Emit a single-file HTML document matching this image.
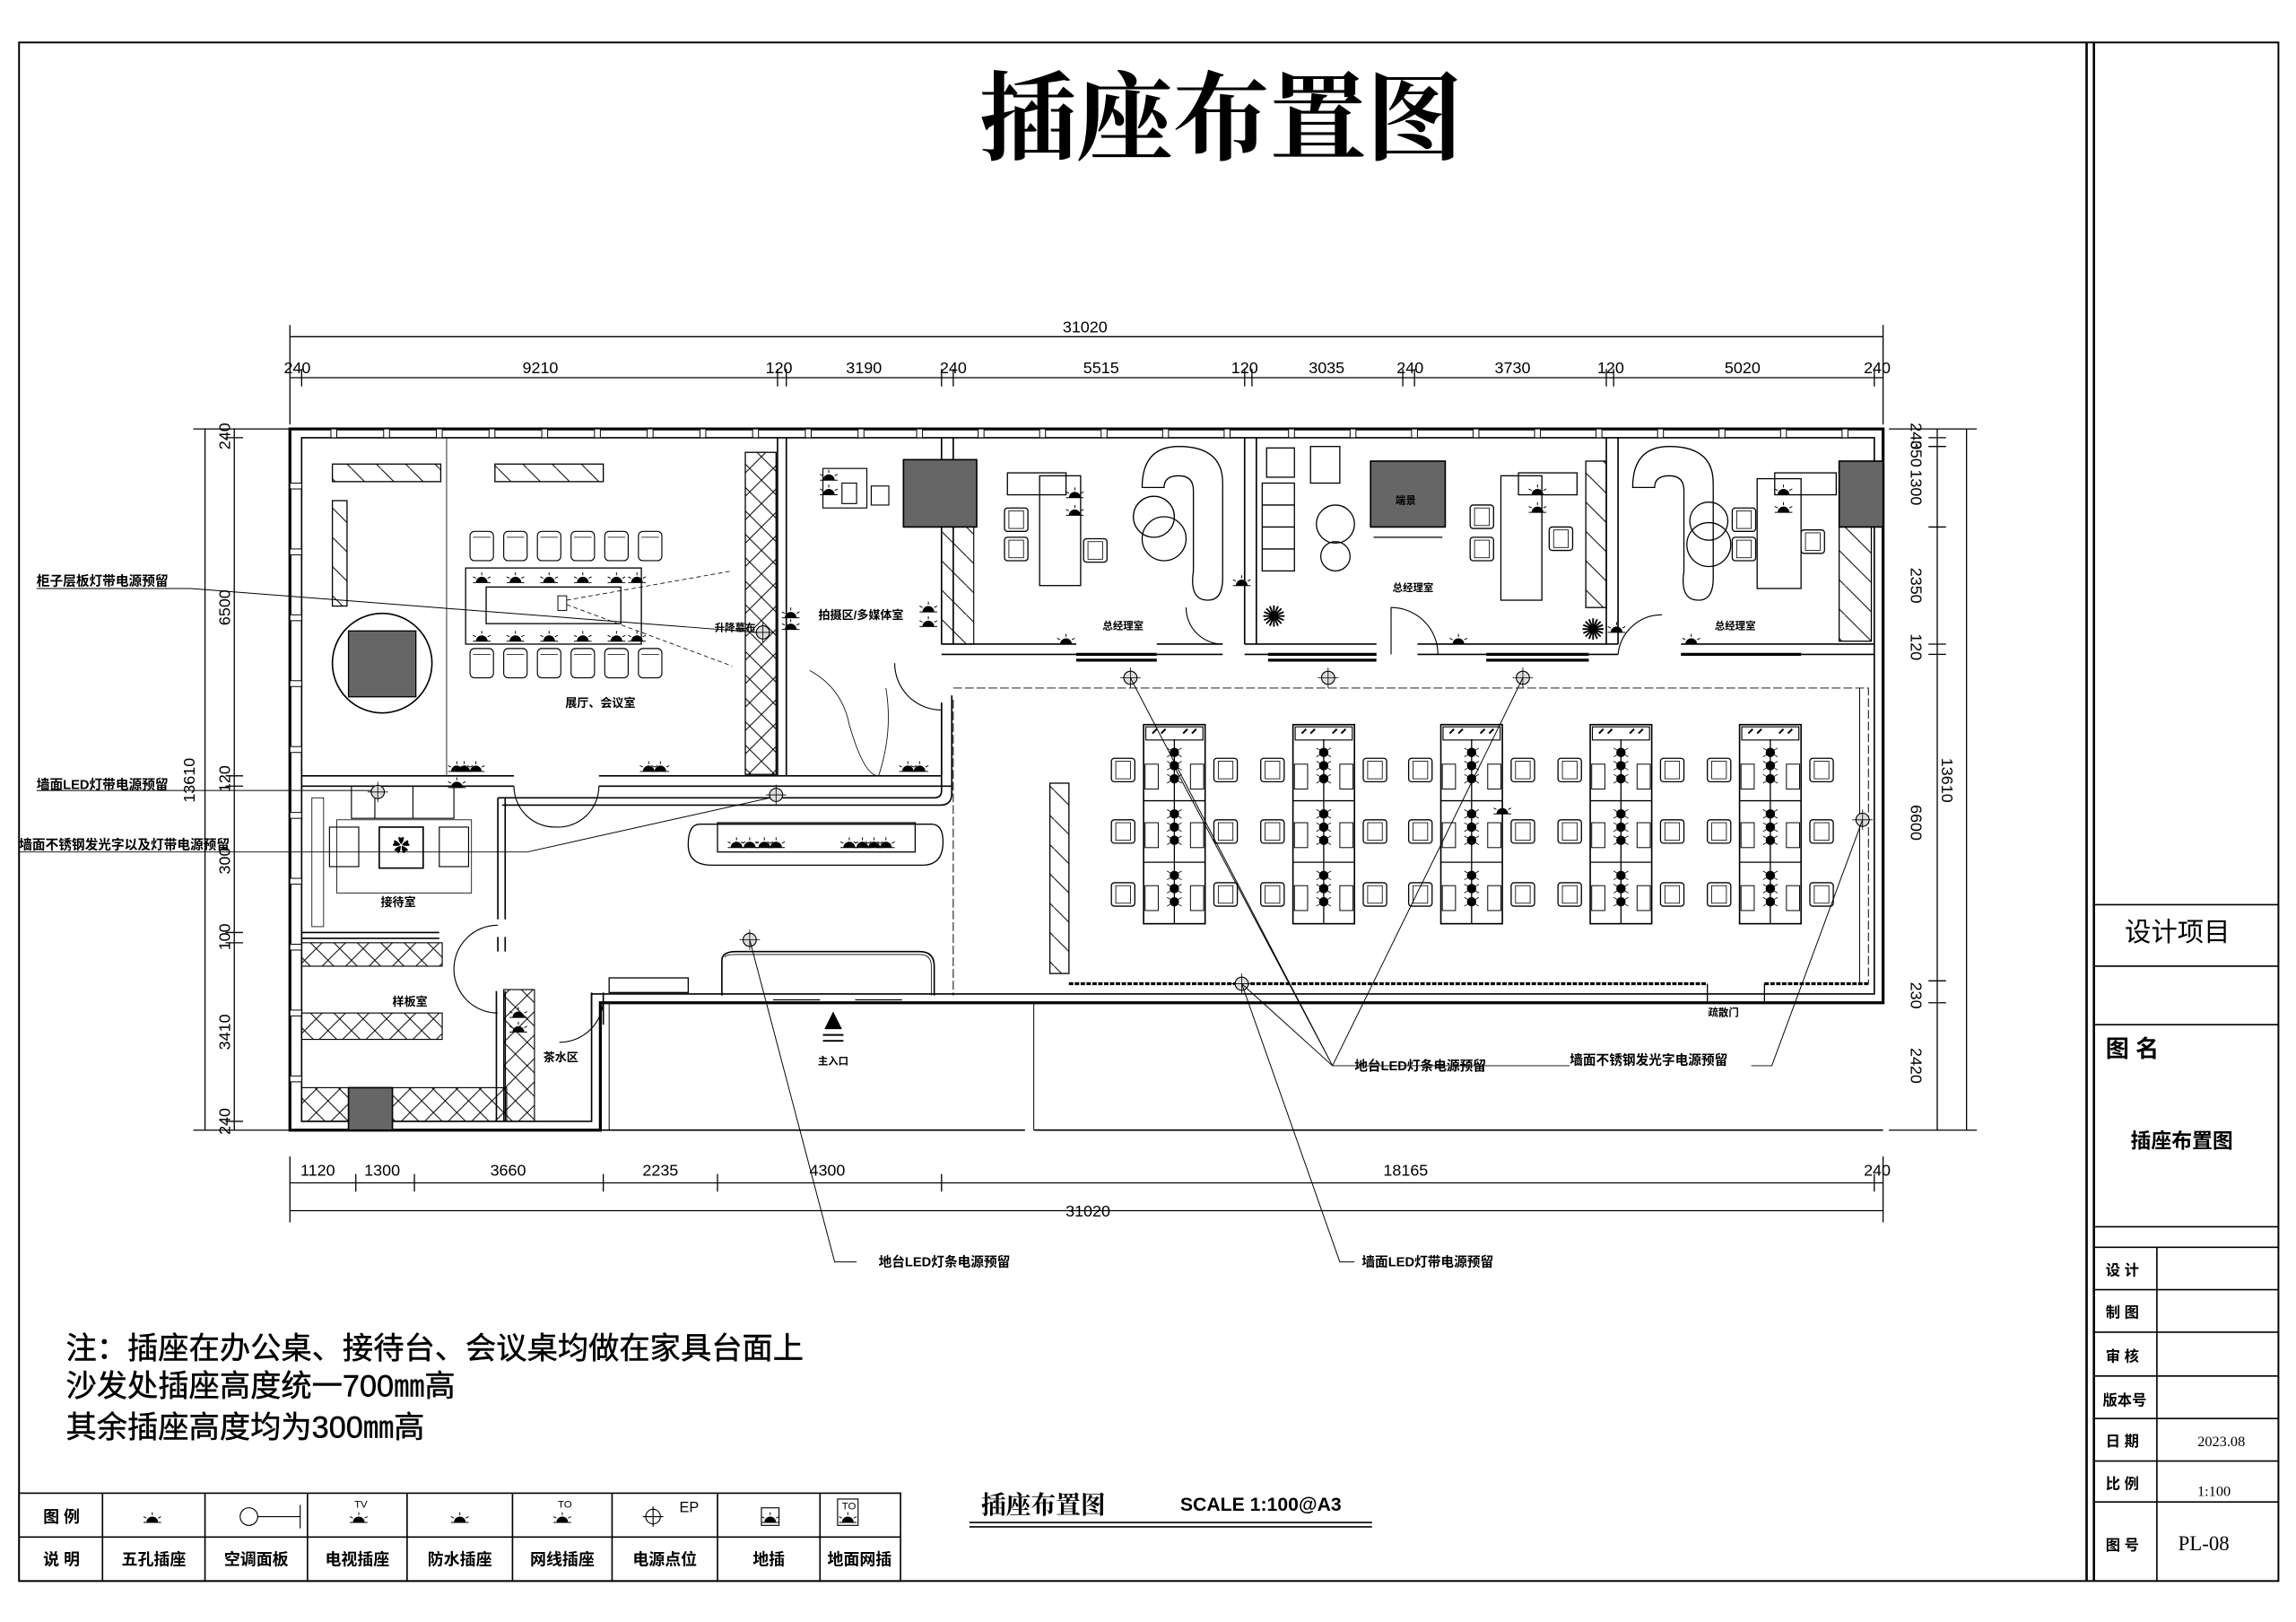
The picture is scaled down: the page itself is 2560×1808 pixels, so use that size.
<!DOCTYPE html>
<html><head><meta charset="utf-8"><style>
html,body{margin:0;padding:0;background:#fff;}
svg{display:block}
text{font-family:"Liberation Sans","Noto Sans CJK SC",sans-serif;fill:#000}
.sf{font-family:"Liberation Serif","Noto Serif CJK SC",serif}
.b{font-weight:bold}
</style></head><body>
<svg width="2560" height="1808" viewBox="0 0 1568 1108" preserveAspectRatio="none" xmlns="http://www.w3.org/2000/svg">
<defs>
<g id="sk"><path d="M-4,0 A4,4 0 0 1 4,0 Z" fill="#000"/><path d="M-6,-4 L-4,-3 M6,-4 L4,-3 M0,-7 L0,-5 M-6,0 L6,0" stroke="#000" stroke-width="0.6"/></g>
<g id="dot"><circle r="3.2" fill="#000"/><path d="M-5,-3 L5,3 M-5,3 L5,-3" stroke="#000" stroke-width="0.5"/></g>
<g id="ch"><rect x="0" y="0" width="16" height="16" rx="2" fill="#fff" stroke="#000" stroke-width="0.8"/><rect x="3" y="2" width="10" height="12" fill="none" stroke="#000" stroke-width="0.5"/></g>
<g id="mc"><rect x="0" y="0" width="16" height="20" rx="3" fill="#fff" stroke="#000" stroke-width="0.7"/><path d="M2,4 H14" stroke="#000" stroke-width="0.5"/></g>
<g id="ep"><circle r="4.5" fill="#ddd" stroke="#000" stroke-width="0.7"/><path d="M-7,0 H7 M0,-7 V7" stroke="#000" stroke-width="0.5"/></g>
<g id="cl">
<rect x="0" y="0" width="42" height="136" fill="#fff" stroke="#000" stroke-width="1"/>
<rect x="1.5" y="1.5" width="39" height="9" fill="none" stroke="#000" stroke-width="0.7"/>
<path d="M0,52 H42 M0,94 H42 M21,10 V136" stroke="#000" stroke-width="0.8"/>
<rect x="1" y="27" width="9" height="17" fill="none" stroke="#000" stroke-width="0.6"/><rect x="32" y="27" width="9" height="17" fill="none" stroke="#000" stroke-width="0.6"/>
<rect x="1" y="67" width="9" height="17" fill="none" stroke="#000" stroke-width="0.6"/><rect x="32" y="67" width="9" height="17" fill="none" stroke="#000" stroke-width="0.6"/>
<rect x="1" y="110" width="9" height="17" fill="none" stroke="#000" stroke-width="0.6"/><rect x="32" y="110" width="9" height="17" fill="none" stroke="#000" stroke-width="0.6"/>
<use href="#dot" x="21" y="19"/><use href="#dot" x="21" y="28"/><use href="#dot" x="21" y="37"/>
<use href="#dot" x="21" y="61"/><use href="#dot" x="21" y="70"/><use href="#dot" x="21" y="79"/>
<use href="#dot" x="21" y="103"/><use href="#dot" x="21" y="112"/><use href="#dot" x="21" y="121"/>
<path d="M6,6 l3,-3 M12,6 l3,-3 M27,6 l3,-3 M33,6 l3,-3" stroke="#000" stroke-width="1.2"/>
<use href="#ch" x="-22" y="23"/><use href="#ch" x="48" y="23"/>
<use href="#ch" x="-22" y="65"/><use href="#ch" x="48" y="65"/>
<use href="#ch" x="-22" y="108"/><use href="#ch" x="48" y="108"/>
</g>
<pattern id="hx" width="16" height="16" patternUnits="userSpaceOnUse"><path d="M0,0 L16,16 M16,0 L0,16" stroke="#000" stroke-width="0.6"/></pattern>
<pattern id="hd" width="20" height="20" patternUnits="userSpaceOnUse"><path d="M0,0 L20,20" stroke="#000" stroke-width="0.6"/></pattern>
</defs>

<rect x="13" y="29" width="1543" height="1051" fill="none" stroke="#000" stroke-width="1.2"/>
<path d="M1425,29 V1080 M1430,29 V1080" stroke="#000" stroke-width="1.6"/>
<text x="834" y="104" class="sf b" font-size="66" text-anchor="middle">插座布置图</text>

<g stroke="#000" stroke-width="1">
<path d="M1430,618 H1556 M1430,660 H1556 M1430,700 H1556 M1430,838 H1556 M1430,852 H1556 M1430,881 H1556 M1430,910 H1556 M1430,940 H1556 M1430,969 H1556 M1430,998 H1556 M1430,1026 H1556 M1473,852 V1080"/>
</g>
<text x="1487" y="643" font-size="18" text-anchor="middle">设计项目</text>
<text x="1438" y="722" font-size="16" class="b">图 名</text>
<text x="1490" y="784" font-size="14" class="b" text-anchor="middle">插座布置图</text>
<g font-size="10" class="b">
<text x="1438" y="871">设 计</text><text x="1438" y="900">制 图</text><text x="1438" y="930">审 核</text>
<text x="1436" y="960">版本号</text><text x="1438" y="988">日 期</text><text x="1438" y="1017">比 例</text><text x="1438" y="1059">图 号</text>
</g>
<text x="1517" y="988" font-size="10" class="sf" text-anchor="middle">2023.08</text>
<text x="1512" y="1022" font-size="10" class="sf" text-anchor="middle">1:100</text>
<text x="1505" y="1059" font-size="14" class="sf" text-anchor="middle">PL-08</text>

<g stroke="#000" stroke-width="0.8">
<path d="M198,230 H1286 M198,258 H1286 M198,222 V290 M1286,222 V290"/>
<path d="M206,252 V264 M531,252 V264 M537,252 V264 M643,252 V264 M651,252 V264 M850,252 V264 M855,252 V264 M958,252 V264 M966,252 V264 M1097,252 V264 M1102,252 V264 M1280,252 V264"/>
<path d="M198,808 H1286 M198,827 H1286 M198,790 V835 M1286,790 V835 M243,802 V814 M283,802 V814 M412,802 V814 M490,802 V814 M643,802 V814 M1280,802 V814"/>
<path d="M160,293 V772 M140,293 V772 M132,293 H198 M132,772 H198 M154,299 H166 M154,530 H166 M154,537 H166 M154,637 H166 M154,644 H166 M154,766 H166"/>
<path d="M1323,293 V772 M1343,293 V772 M1290,293 H1350 M1290,772 H1350 M1317,299 H1329 M1317,305 H1329 M1317,360 H1329 M1317,440 H1329 M1317,447 H1329 M1317,670 H1329 M1317,685 H1329"/>
</g>
<g font-size="11" text-anchor="middle">
<text x="741" y="227">31020</text>
<text x="203" y="255">240</text><text x="369" y="255">9210</text><text x="532" y="255">120</text><text x="590" y="255">3190</text><text x="651" y="255">240</text><text x="752" y="255">5515</text><text x="850" y="255">120</text><text x="906" y="255">3035</text><text x="963" y="255">240</text><text x="1033" y="255">3730</text><text x="1100" y="255">120</text><text x="1190" y="255">5020</text><text x="1282" y="255">240</text>
<text x="217" y="803">1120</text><text x="261" y="803">1300</text><text x="347" y="803">3660</text><text x="451" y="803">2235</text><text x="565" y="803">4300</text><text x="960" y="803">18165</text><text x="1282" y="803">240</text>
<text x="743" y="831">31020</text>
</g>
<g font-size="11" text-anchor="middle">
<text transform="translate(157,298) rotate(-90)">240</text><text transform="translate(157,415) rotate(-90)">6500</text><text transform="translate(157,532) rotate(-90)">120</text><text transform="translate(157,588) rotate(-90)">300</text><text transform="translate(157,640) rotate(-90)">100</text><text transform="translate(157,705) rotate(-90)">3410</text><text transform="translate(157,766) rotate(-90)">240</text>
<text transform="translate(133,533) rotate(-90)">13610</text>
<text transform="translate(1305,298) rotate(90)">240</text><text transform="translate(1305,310) rotate(90)">350</text><text transform="translate(1305,333) rotate(90)">1300</text><text transform="translate(1305,400) rotate(90)">2350</text><text transform="translate(1305,442) rotate(90)">120</text><text transform="translate(1305,562) rotate(90)">6600</text><text transform="translate(1305,680) rotate(90)">230</text><text transform="translate(1305,728) rotate(90)">2420</text>
<text transform="translate(1326,533) rotate(90)">13610</text>
</g>

<g fill="none" stroke="#000">
<path d="M198,293 H1286 V685 H410 V772 H198 Z" stroke-width="2"/>
<path d="M206,299 H1280 V679 H404 V766 H206 Z" stroke-width="1"/>
<path d="M410,772 H700 M706,772 H1286" stroke-width="1"/>
<path d="M416,685 V772 M706,685 V772" stroke-width="0.6"/>
</g>
<g fill="#fff" stroke="#000" stroke-width="0.6">
<rect x="226" y="293" width="4" height="6"/><rect x="262" y="293" width="4" height="6"/><rect x="298" y="293" width="4" height="6"/><rect x="334" y="293" width="4" height="6"/><rect x="370" y="293" width="4" height="6"/><rect x="406" y="293" width="4" height="6"/><rect x="442" y="293" width="4" height="6"/><rect x="478" y="293" width="4" height="6"/><rect x="514" y="293" width="4" height="6"/><rect x="550" y="293" width="4" height="6"/><rect x="586" y="293" width="4" height="6"/><rect x="626" y="293" width="4" height="6"/><rect x="668" y="293" width="4" height="6"/><rect x="710" y="293" width="4" height="6"/><rect x="752" y="293" width="4" height="6"/><rect x="794" y="293" width="4" height="6"/><rect x="836" y="293" width="4" height="6"/><rect x="880" y="293" width="4" height="6"/><rect x="922" y="293" width="4" height="6"/><rect x="964" y="293" width="4" height="6"/><rect x="1006" y="293" width="4" height="6"/><rect x="1048" y="293" width="4" height="6"/><rect x="1090" y="293" width="4" height="6"/><rect x="1132" y="293" width="4" height="6"/><rect x="1174" y="293" width="4" height="6"/><rect x="1216" y="293" width="4" height="6"/><rect x="1258" y="293" width="4" height="6"/>
<rect x="198" y="330" width="8" height="4"/><rect x="198" y="375" width="8" height="4"/><rect x="198" y="420" width="8" height="4"/><rect x="198" y="465" width="8" height="4"/><rect x="198" y="510" width="8" height="4"/><rect x="198" y="555" width="8" height="4"/><rect x="198" y="600" width="8" height="4"/><rect x="198" y="645" width="8" height="4"/><rect x="198" y="690" width="8" height="4"/><rect x="198" y="735" width="8" height="4"/>
</g>

<g fill="none" stroke="#000" stroke-width="1">
<path d="M531,299 V530 M537,299 V530"/>
<path d="M206,530 H351 M409,530 H643 V480 M206,537 H351 M409,537 H650"/>
<path d="M643,299 V440 M651,299 V440"/>
<path d="M643,440 H735 M790,440 H835 M850,440 H940 M968,440 H1105 M1148,440 H1280 M643,447 H735 M790,447 H835 M850,447 H940 M968,447 H1105 M1148,447 H1280"/>
<path d="M850,299 V440 M858,299 V440 M1097,299 V440 M1105,299 V440"/>
<path d="M643,480 V540 Q643,545 638,545 H340 M650,475 V542 Q650,550 642,550 H343"/>
<path d="M340,545 V628 M345,545 V628 M206,637 H300 M206,641 H300"/>
<path d="M340,640 V650 M345,640 V650 M339,677 V766 M345,677 V766"/>
<path d="M404,678 V700 M412,678 V700"/>
<path d="M651,470 H1276 V672 M651,478 V680" stroke-width="0.6" stroke-dasharray="6,2"/>
<path d="M1270,470 V672" stroke-width="0.6"/>
<path d="M1205,672 V685 M1166,672 V685" stroke-width="0.8"/>
<path d="M730,672 H1166 M1205,672 H1276" stroke-width="2" stroke-dasharray="3,1"/>
</g>
<g fill="none" stroke="#000" stroke-width="0.7">
<path d="M351,537 A28,28 0 0 0 380,565 M409,537 A28,28 0 0 1 380,565"/>
<path d="M340,632 A30,30 0 0 0 310,662 A30,30 0 0 0 340,692"/>
<path d="M412,680 A30,30 0 0 1 382,712"/>
<path d="M611,453 A32,32 0 0 0 643,485"/>
<path d="M950,447 V415 A32,32 0 0 1 982,447"/>
<path d="M1105,447 A30,30 0 0 1 1135,420"/>
<path d="M835,440 A25,25 0 0 1 810,415"/>
</g>

<g fill="none" stroke="#000" stroke-width="0.8">
<rect x="227" y="317" width="74" height="12" fill="url(#hd)"/>
<rect x="338" y="317" width="74" height="12" fill="url(#hd)"/>
<rect x="227" y="342" width="10" height="72" fill="url(#hd)"/>
<circle cx="261" cy="453" r="34" stroke-width="1"/>
<rect x="238" y="431" width="46" height="45" fill="#666"/>
<rect x="318" y="388" width="120" height="52"/>
<rect x="332" y="401" width="92" height="25"/>
<rect x="509" y="309" width="21" height="220" fill="url(#hx)"/>
<path d="M305,299 V530" stroke-width="0.5"/>
</g>
<g>
<use href="#mc" x="321" y="363"/><use href="#mc" x="344" y="363"/><use href="#mc" x="367" y="363"/><use href="#mc" x="390" y="363"/><use href="#mc" x="413" y="363"/><use href="#mc" x="436" y="363"/>
<use href="#mc" x="321" y="443"/><use href="#mc" x="344" y="443"/><use href="#mc" x="367" y="443"/><use href="#mc" x="390" y="443"/><use href="#mc" x="413" y="443"/><use href="#mc" x="436" y="443"/>
<use href="#sk" x="329" y="398"/><use href="#sk" x="352" y="398"/><use href="#sk" x="375" y="398"/><use href="#sk" x="398" y="398"/><use href="#sk" x="421" y="398"/><use href="#sk" x="435" y="398"/>
<use href="#sk" x="329" y="438"/><use href="#sk" x="352" y="438"/><use href="#sk" x="375" y="438"/><use href="#sk" x="398" y="438"/><use href="#sk" x="421" y="438"/><use href="#sk" x="435" y="438"/>
<use href="#sk" x="317" y="527"/><use href="#sk" x="325" y="527"/><use href="#sk" x="443" y="527"/><use href="#sk" x="451" y="527"/><use href="#sk" x="620" y="527"/><use href="#sk" x="628" y="527"/>
</g>
<rect x="381" y="407" width="6" height="10" fill="#fff" stroke="#000" stroke-width="0.6"/>
<path d="M387,410 L500,390 M387,413 L500,455" stroke="#000" stroke-width="0.5" stroke-dasharray="3,2"/>
<use href="#ep" x="521" y="432"/>
<text x="488" y="431" font-size="7" class="b">升降幕布</text>
<text x="410" y="483" font-size="8" class="b" text-anchor="middle">展厅、会议室</text>

<g fill="none" stroke="#000" stroke-width="0.7">
<rect x="562" y="320" width="30" height="27"/><rect x="575" y="330" width="10" height="14"/><rect x="595" y="332" width="12" height="13"/>
<rect x="643" y="360" width="22" height="80" fill="url(#hd)"/>
<path d="M553,458 Q575,470 580,495 Q590,530 600,530 Q610,500 605,470" stroke-width="0.5"/>
</g>
<rect x="617" y="314" width="50" height="46" fill="#666" stroke="#000"/>
<text x="588" y="423" font-size="8" class="b" text-anchor="middle">拍摄区/多媒体室</text>
<use href="#sk" x="566" y="328"/><use href="#sk" x="566" y="338"/><use href="#sk" x="540" y="422"/><use href="#sk" x="540" y="430"/><use href="#sk" x="634" y="418"/><use href="#sk" x="634" y="428"/>

<g fill="none" stroke="#000" stroke-width="0.7">
<rect x="240" y="537" width="70" height="22"/><path d="M256,537 V559 M282,537 V559"/>
<rect x="225" y="565" width="20" height="27"/><rect x="300" y="565" width="20" height="27"/>
<rect x="259" y="565" width="30" height="28" stroke-width="1"/>
<rect x="230" y="560" width="92" height="50" stroke-width="0.5"/>
<rect x="213" y="545" width="8" height="88" stroke-width="0.5"/>
<rect x="206" y="644" width="96" height="16" fill="url(#hx)"/>
<rect x="206" y="692" width="96" height="18" fill="url(#hx)"/>
<rect x="206" y="743" width="140" height="23" fill="url(#hx)"/>
<rect x="344" y="676" width="21" height="90" fill="url(#hx)"/>
</g>
<text x="274" y="582" font-size="12" text-anchor="middle">✿</text>
<rect x="238" y="743" width="30" height="29" fill="#666" stroke="#000"/>
<use href="#ep" x="258" y="541"/>
<use href="#sk" x="312" y="527"/><use href="#sk" x="312" y="538"/><use href="#sk" x="354" y="695"/><use href="#sk" x="354" y="705"/>
<text x="272" y="619" font-size="8" class="b" text-anchor="middle">接待室</text>
<text x="280" y="687" font-size="8" class="b" text-anchor="middle">样板室</text>
<text x="383" y="725" font-size="8" class="b" text-anchor="middle">茶水区</text>

<g fill="none" stroke="#000" stroke-width="0.8">
<path d="M478,563 H636 Q644,563 644,575 Q644,591 630,591 H486 Q470,591 470,577 Q470,563 478,563 Z"/>
<rect x="490" y="562" width="135" height="20"/>
<path d="M493,656 Q493,650 503,650 H628 Q638,650 638,660 V680 M493,656 V680" stroke-width="1"/>
<path d="M495,654 Q495,652 503,652 H628 Q636,652 636,660 V680" stroke-width="0.5"/>
<rect x="416" y="668" width="54" height="10"/>
<path d="M528,683 H560 M584,683 H616"/>
</g>
<use href="#sk" x="503" y="579"/><use href="#sk" x="512" y="579"/><use href="#sk" x="522" y="579"/><use href="#sk" x="530" y="579"/><use href="#sk" x="580" y="579"/><use href="#sk" x="589" y="579"/><use href="#sk" x="597" y="579"/><use href="#sk" x="605" y="579"/>
<use href="#ep" x="530" y="543"/><use href="#ep" x="512" y="642"/>
<path d="M563,703 L569,691 L575,703 Z" fill="#000"/>
<path d="M562,707 H576 M562,711 H576" stroke="#000" stroke-width="1.2"/>
<text x="569" y="727" font-size="7" class="b" text-anchor="middle">主入口</text>

<g fill="none" stroke="#000" stroke-width="0.8">
<path d="M780,333 Q780,305 805,305 Q835,305 835,330 V395 Q835,410 825,410 Q812,410 815,390 V335 Q815,325 805,325 Q795,325 795,333 Z"/>
<path d="M1115,333 Q1115,305 1140,305 Q1170,305 1170,330 V395 Q1170,410 1160,410 Q1147,410 1150,390 V335 Q1150,325 1140,325 Q1130,325 1130,333 Z"/>
<circle cx="788" cy="353" r="14"/><circle cx="795" cy="368" r="15"/>
<circle cx="912" cy="358" r="13"/><circle cx="912" cy="380" r="10"/>
<circle cx="1167" cy="356" r="13"/><circle cx="1167" cy="372" r="15"/>
<rect x="710" y="325" width="28" height="75"/><rect x="1025" y="325" width="28" height="85"/><rect x="1200" y="327" width="30" height="75"/>
<rect x="688" y="323" width="40" height="15"/><rect x="1037" y="323" width="40" height="15"/><rect x="1212" y="323" width="42" height="15"/>
<rect x="862" y="330" width="22" height="60"/><path d="M862,345 H884 M862,360 H884 M862,375 H884"/>
<rect x="865" y="306" width="19" height="20"/><rect x="895" y="305" width="20" height="25"/>
<rect x="1083" y="315" width="14" height="100" fill="url(#hd)"/>
<rect x="1256" y="360" width="22" height="78" fill="url(#hd)"/>
<path d="M938,367 H985" />
<path d="M735,447 H790 M735,451 H790 M866,447 H940 M866,451 H940 M1015,447 H1085 M1015,451 H1085 M1148,447 H1230" stroke-width="2"/>
</g>
<rect x="936" y="315" width="51" height="45" fill="#666" stroke="#000"/>
<rect x="1256" y="315" width="30" height="45" fill="#666" stroke="#000"/>
<g><use href="#ch" x="686" y="347"/><use href="#ch" x="686" y="367"/><use href="#ch" x="740" y="368"/><use href="#ch" x="1004" y="345"/><use href="#ch" x="1004" y="367"/><use href="#ch" x="1058" y="360"/><use href="#ch" x="1183" y="347"/><use href="#ch" x="1183" y="367"/><use href="#ch" x="1230" y="362"/></g>
<g><use href="#sk" x="734" y="340"/><use href="#sk" x="734" y="352"/><use href="#sk" x="1050" y="338"/><use href="#sk" x="1050" y="350"/><use href="#sk" x="1218" y="338"/><use href="#sk" x="1218" y="350"/><use href="#sk" x="728" y="440"/><use href="#sk" x="996" y="440"/><use href="#sk" x="1155" y="440"/><use href="#sk" x="848" y="400"/><use href="#sk" x="1104" y="432"/></g>
<text x="870" y="428" font-size="20" text-anchor="middle">✺</text><text x="1088" y="437" font-size="20" text-anchor="middle">✺</text>
<g font-size="7" class="b" text-anchor="middle"><text x="767" y="430">总经理室</text><text x="965" y="404">总经理室</text><text x="1185" y="430">总经理室</text><text x="960" y="344">端景</text><text x="1177" y="694">疏散门</text></g>

<use href="#cl" x="781" y="495"/><use href="#cl" x="883" y="495"/><use href="#cl" x="984" y="495"/><use href="#cl" x="1086" y="495"/><use href="#cl" x="1188" y="495"/>
<rect x="717" y="535" width="13" height="130" fill="url(#hd)" stroke="#000" stroke-width="0.8"/>
<use href="#ep" x="772" y="463"/><use href="#ep" x="907" y="463"/><use href="#ep" x="1040" y="463"/><use href="#ep" x="1272" y="560"/><use href="#ep" x="848" y="672"/>
<use href="#sk" x="1026" y="556"/>

<g fill="none" stroke="#000" stroke-width="0.6">
<path d="M25,402 H130 L517,432"/>
<path d="M25,540 H254"/>
<path d="M13,582 H360 L526,545"/>
<path d="M1072,728 H910 L772,463 M910,728 L800,520 M910,728 L1040,463 M910,728 L848,672"/>
<path d="M1196,728 H1210 L1272,560"/>
<path d="M585,862 H570 L512,642"/>
<path d="M925,862 H915 L848,672"/>
</g>
<g font-size="9" class="b">
<text x="25" y="400">柜子层板灯带电源预留</text>
<text x="25" y="539">墙面LED灯带电源预留</text>
<text x="13" y="580">墙面不锈钢发光字以及灯带电源预留</text>
<text x="925" y="731">地台LED灯条电源预留</text>
<text x="1072" y="727">墙面不锈钢发光字电源预留</text>
<text x="600" y="865">地台LED灯条电源预留</text>
<text x="930" y="865">墙面LED灯带电源预留</text>
</g>

<g class="sf" font-size="21" stroke="#000" stroke-width="0.3">
<text x="45" y="928">注：插座在办公桌、接待台、会议桌均做在家具台面上</text>
<text x="45" y="954">沙发处插座高度统一700㎜高</text>
<text x="45" y="982">其余插座高度均为300㎜高</text>
</g>

<g stroke="#000" stroke-width="1" fill="none">
<rect x="13" y="1020" width="602" height="60"/>
<path d="M13,1050 H615 M70,1020 V1080 M140,1020 V1080 M210,1020 V1080 M278,1020 V1080 M350,1020 V1080 M418,1020 V1080 M490,1020 V1080 M560,1020 V1080"/>
<circle cx="170" cy="1036" r="6" stroke-width="0.7"/><path d="M176,1036 H205 M205,1028 V1044" stroke-width="0.7"/>
<circle cx="446" cy="1036" r="5" stroke-width="0.7"/><path d="M439,1036 H453 M446,1029 V1043" stroke-width="0.7"/>
<rect x="520" y="1030" width="12" height="12" stroke-width="0.7"/>
<rect x="572" y="1024" width="14" height="18" stroke-width="0.7"/>
</g>
<use href="#sk" x="104" y="1040"/><use href="#sk" x="245" y="1040"/><use href="#sk" x="314" y="1040"/><use href="#sk" x="384" y="1040"/><use href="#sk" x="526" y="1040"/><use href="#sk" x="579" y="1040"/>
<g font-size="7"><text x="242" y="1030">TV</text><text x="381" y="1030">TO</text><text x="464" y="1033" font-size="10">EP</text><text x="575" y="1031">TO</text></g>
<g font-size="11" class="b" text-anchor="middle">
<text x="42" y="1040">图  例</text><text x="42" y="1069">说  明</text>
<text x="105" y="1069">五孔插座</text><text x="175" y="1069">空调面板</text><text x="244" y="1069">电视插座</text><text x="314" y="1069">防水插座</text><text x="384" y="1069">网线插座</text><text x="454" y="1069">电源点位</text><text x="525" y="1069">地插</text><text x="587" y="1069">地面网插</text>
</g>
<text x="670" y="1034" font-size="17" class="sf b">插座布置图</text>
<text x="806" y="1032" font-size="13" class="b">SCALE 1:100@A3</text>
<path d="M662,1040 H937 M662,1043 H937" stroke="#000" stroke-width="1"/>
</svg>
</body></html>
